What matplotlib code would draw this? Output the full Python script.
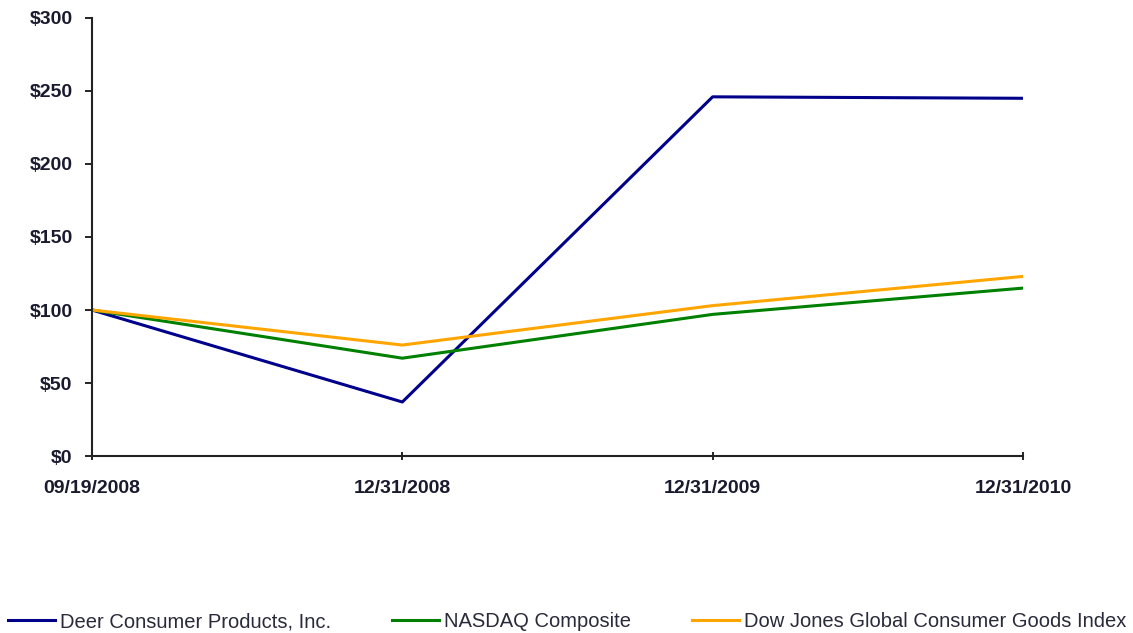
import matplotlib.pyplot as plt
from matplotlib.ticker import FuncFormatter

plt.rcParams['font.family'] = ['Liberation Sans', 'DejaVu Sans']

dates = ["09/19/2008", "12/31/2008", "12/31/2009", "12/31/2010"]
deer = [100, 37, 246, 245]
nasdaq = [100, 67, 97, 115]
dow_jones = [100, 76, 103, 123]

fig = plt.figure(figsize=(11.33, 6.33), dpi=100)
ax = fig.add_axes([0.0812, 0.2796, 0.8217, 0.692])

x = range(len(dates))
ax.plot(x, deer, color="#00008B", lw=2.2, label="Deer Consumer Products, Inc.")
ax.plot(x, nasdaq, color="#008000", lw=2.2, label="NASDAQ Composite")
ax.plot(x, dow_jones, color="#FFA500", lw=2.2, label="Dow Jones Global Consumer Goods Index")

ax.set_xlim(0, 3)
ax.set_ylim(0, 300)
ax.set_yticks(range(0, 301, 50))
ax.yaxis.set_major_formatter(FuncFormatter(lambda v, p: "$%d" % v))
ax.set_xticks(list(x))
ax.set_xticklabels(dates)
for s in ["top", "right"]:
    ax.spines[s].set_visible(False)
for s in ["left", "bottom"]:
    ax.spines[s].set_color("#222222")
    ax.spines[s].set_linewidth(1.5)
ax.tick_params(axis="y", direction="out", length=5, width=1.2, pad=9, labelsize=14)
ax.tick_params(axis="x", direction="inout", length=6, width=1.2, pad=14, labelsize=14)
for lab in ax.get_xticklabels() + ax.get_yticklabels():
    lab.set_fontweight("bold")
    lab.set_color("#1a1a2e")

leg = fig.legend(loc="center left", bbox_to_anchor=(0.007, 0.0174), ncol=3, frameon=False,
                 fontsize=14.5, handlelength=2.35, handletextpad=0.25, columnspacing=3.0,
                 borderpad=0, borderaxespad=0)
for t in leg.get_texts():
    t.set_color("#2a2a3a")

fig.savefig("out.png", dpi=100)
